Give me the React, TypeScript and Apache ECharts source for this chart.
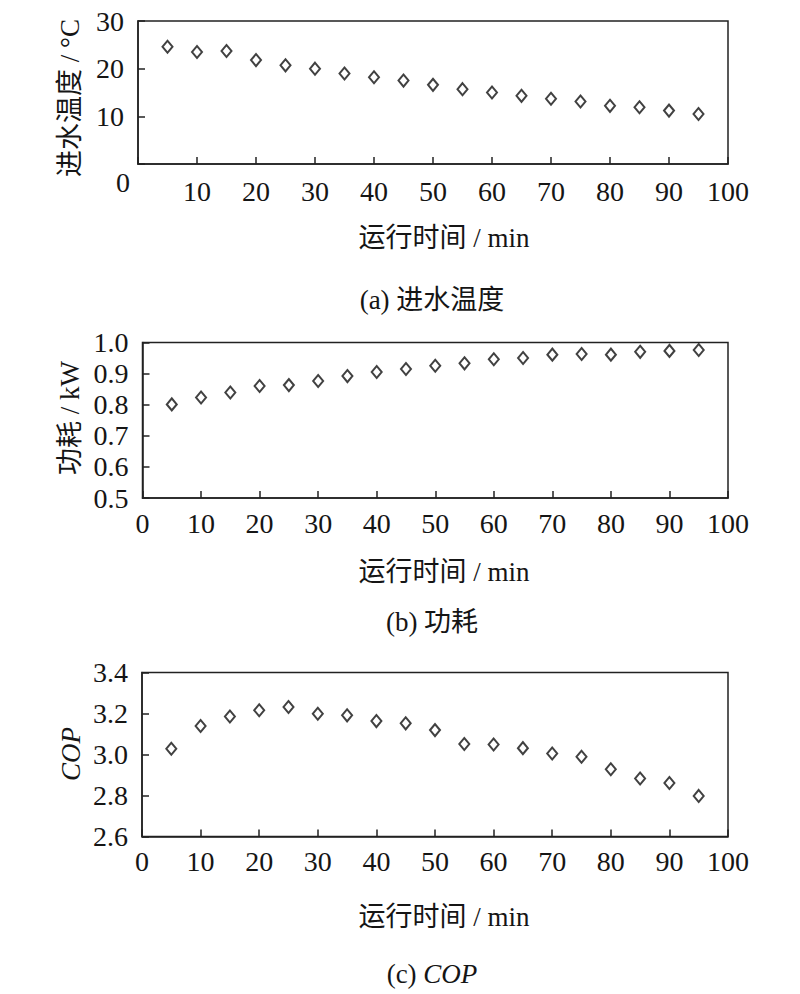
import React, { useEffect, useRef } from "react";
import * as echarts from "echarts";

const time = [5, 10, 15, 20, 25, 30, 35, 40, 45, 50, 55, 60, 65, 70, 75, 80, 85, 90, 95];
const inletTemp = [24.6, 23.5, 23.7, 21.8, 20.7, 20.0, 19.0, 18.2, 17.5, 16.6, 15.7, 15.0, 14.3, 13.7, 13.1, 12.2, 11.9, 11.2, 10.5];
const power = [0.801, 0.823, 0.839, 0.86, 0.863, 0.876, 0.892, 0.905, 0.915, 0.925, 0.933, 0.946, 0.95, 0.961, 0.963, 0.961, 0.97, 0.973, 0.976];
const cop = [3.028, 3.139, 3.185, 3.216, 3.232, 3.199, 3.191, 3.163, 3.152, 3.119, 3.051, 3.049, 3.031, 3.005, 2.989, 2.928, 2.883, 2.861, 2.798];

const xTitle = "运行时间 / min";
const yTitles = ["进水温度 / °C", "功耗 / kW", "COP"];
const captions = ["(a) 进水温度", "(b) 功耗", "(c) {i|COP}"];

const FONT = "Liberation Serif, Noto Sans CJK SC";
const INK = "#151515";
const LINE = "#222";

export default function App() {
  const ref = useRef<HTMLDivElement>(null);

  useEffect(() => {
    if (!ref.current) return;
    const chart = echarts.init(ref.current, undefined, { renderer: "svg" });

    const grids = [
      { left: 138, top: 21, width: 590, height: 143 },
      { left: 142.5, top: 342.5, width: 585.5, height: 155.5 },
      { left: 142, top: 672.5, width: 586, height: 164 },
    ];

    const yCfg = [
      { min: 0, max: 30, interval: 10, fmt: (v: number) => (v === 0 ? "" : String(v)) },
      { min: 0.5, max: 1.0, interval: 0.1, fmt: (v: number) => v.toFixed(1) },
      { min: 2.6, max: 3.4, interval: 0.2, fmt: (v: number) => v.toFixed(1) },
    ];
    const xMargins = [13, 11, 11];
    const seriesData = [inletTemp, power, cop];

    const axisLine = { show: true, lineStyle: { color: LINE, width: 1.5 } };
    const axisTick = { show: true, inside: true, length: 7, lineStyle: { color: LINE, width: 1.5 } };

    const option: any = {
      animation: false,
      backgroundColor: "#fff",
      textStyle: { fontFamily: FONT },
      grid: grids.map((g) => ({
        ...g,
        show: true,
        borderColor: LINE,
        borderWidth: 1.5,
        backgroundColor: "transparent",
        containLabel: false,
      })),
      xAxis: grids.map((_, i) => ({
        gridIndex: i,
        type: "value",
        min: 0,
        max: 100,
        interval: 10,
        axisLine,
        axisTick,
        splitLine: { show: false },
        axisLabel: {
          margin: xMargins[i],
          fontSize: 28,
          color: INK,
          fontFamily: FONT,
          showMinLabel: true,
          showMaxLabel: true,
          formatter: (v: number) => (i === 0 && v === 0 ? "" : String(v)),
        },
      })),
      yAxis: yCfg.map((c, i) => ({
        gridIndex: i,
        type: "value",
        min: c.min,
        max: c.max,
        interval: c.interval,
        axisLine,
        axisTick,
        splitLine: { show: false },
        axisLabel: {
          margin: 14,
          fontSize: 28,
          color: INK,
          fontFamily: FONT,
          showMinLabel: true,
          showMaxLabel: true,
          formatter: c.fmt,
        },
      })),
      series: seriesData.map((d, i) => ({
        type: "scatter",
        xAxisIndex: i,
        yAxisIndex: i,
        data: time.map((t, k) => [t, d[k]]),
        symbol: "diamond",
        symbolSize: [10, 12],
        itemStyle: { color: "#fff", borderColor: "#111", borderWidth: 2 },
      })),
      graphic: [
        {
          type: "text",
          x: 130,
          y: 182,
          style: { text: "0", fontSize: 28, fontFamily: FONT, fill: INK, align: "right", verticalAlign: "middle" },
        },
        ...[238, 572, 917].map((y) => ({
          type: "text",
          x: 444,
          y,
          style: { text: xTitle, fontSize: 27, fontFamily: FONT, fill: INK, align: "center", verticalAlign: "middle" },
        })),
        ...[
          [70, 98],
          [70, 418],
          [71, 754],
        ].map(([x, y], i) => ({
          type: "text",
          x,
          y,
          rotation: Math.PI / 2,
          style: {
            text: yTitles[i],
            fontSize: 27,
            fontFamily: FONT,
            fontStyle: i === 2 ? "italic" : "normal",
            fill: INK,
            align: "center",
            verticalAlign: "middle",
          },
        })),
        ...[300, 622, 974].map((y, i) => ({
          type: "text",
          x: 432,
          y,
          style: {
            text: captions[i],
            fontSize: 27,
            fontFamily: FONT,
            fill: INK,
            align: "center",
            verticalAlign: "middle",
            rich: { i: { fontStyle: "italic", fontSize: 27, fontFamily: FONT, fill: INK } },
          },
        })),
      ],
    };

    chart.setOption(option);
    return () => chart.dispose();
  }, []);

  return (
    <div
      ref={ref}
      style={{ position: "absolute", left: 0, top: 0, width: 800, height: 994, background: "#fff" }}
    />
  );
}
